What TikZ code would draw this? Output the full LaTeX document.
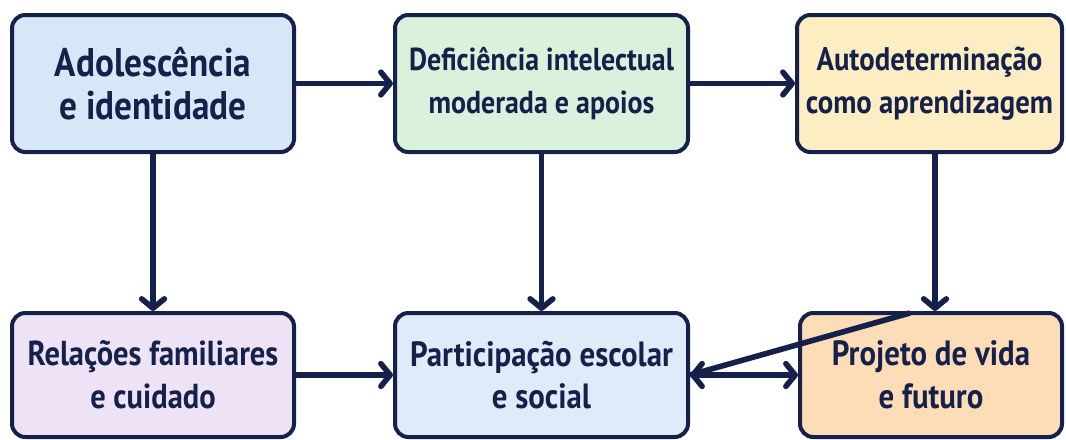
\documentclass[tikz,border=0pt]{standalone}
\usepackage{fontspec}
\setmainfont{PT Sans}[FakeStretch=0.88]
\usetikzlibrary{arrows.meta}
\definecolor{navy}{HTML}{15214A}
\definecolor{azul}{HTML}{D7E7F8}
\definecolor{verde}{HTML}{DAF2DC}
\definecolor{amarelo}{HTML}{FCEDC2}
\definecolor{lilas}{HTML}{EDE2F6}
\definecolor{celeste}{HTML}{DFEBF9}
\definecolor{pessego}{HTML}{FCDDB8}

\begin{document}
\begin{tikzpicture}[x=0.75pt,y=-0.75pt,
    caixa/.style={draw=navy,line width=3pt,rounded corners=10pt,align=center,
        text=navy,font=\fontsize{#1}{32}\selectfont\bfseries,inner sep=0pt},
    caixa/.default=24.5,
    ponta/.tip={Straight Barb[length=7pt,width=17pt,line cap=round,line join=round]},
    seta/.style={draw=navy,line width=4.2pt,-ponta}]
    \useasboundingbox (0,0) rectangle (1066,439);
    % linha de cima
    \node[caixa=30,fill=azul,minimum width=211.5pt,minimum height=102.75pt] (adol) at (153,83.5) {Adolescência\\e identidade};
    \node[caixa=23.8,fill=verde,minimum width=219.75pt,minimum height=102.75pt] (defi) at (541.5,83.5) {Deficiência intelectual\\moderada e apoios};
    \node[caixa,fill=amarelo,minimum width=198.75pt,minimum height=102.75pt] (auto) at (929.5,83.5) {Autodeterminação\\como aprendizagem};
    % linha de baixo
    \node[caixa=26,fill=lilas,minimum width=211.5pt,minimum height=93pt] (fami) at (153,375) {Relações familiares\\e cuidado};
    \node[caixa=26.3,fill=celeste,minimum width=219.75pt,minimum height=93pt] (part) at (541.5,375) {Participação escolar\\e social};
    \node[caixa=26.3,fill=pessego,minimum width=196.5pt,minimum height=93pt] (proj) at (931,375) {Projeto de vida\\e futuro};
    \coordinate (projtopo) at (910,313);
    % setas
    \draw[seta] (adol) -- (defi);
    \draw[seta] (defi) -- (auto);
    \draw[seta] (adol) -- (fami);
    \draw[seta] (defi) -- (part);
    \draw[seta] (auto.south -| 935,0) -- (proj.north -| 935,0);
    \draw[seta] (fami) -- (part);
    \draw[seta,ponta-ponta] (part) -- (proj);
    \draw[seta,-] (projtopo) -- (part.east);
\end{tikzpicture}
\end{document}
